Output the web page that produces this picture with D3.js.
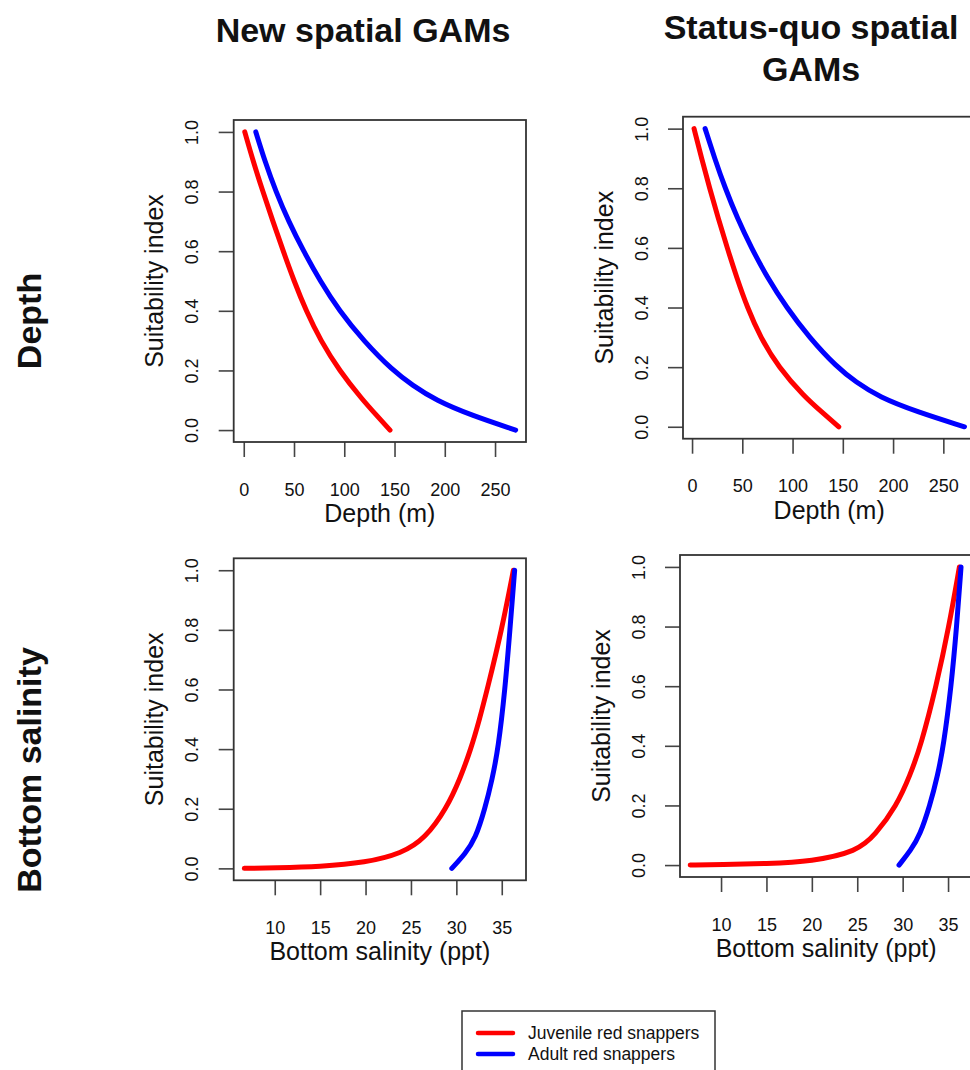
<!DOCTYPE html>
<html>
<head>
<meta charset="utf-8">
<script src="https://cdn.jsdelivr.net/npm/d3@7"></script>
<style>
  body { margin: 0; background: #fff; }
  svg { display: block; }
  text { font-family: "Liberation Sans", Arial, Helvetica, sans-serif; fill: #111; }
</style>
</head>
<body>
<svg id="chart" width="970" height="1070"></svg>
<script>
// ---- Labels ----
const columnTitles = [["New spatial GAMs"], ["Status-quo spatial", "GAMs"]];
const rowTitles = ["Depth", "Bottom salinity"];
const seriesNames = ["Juvenile red snappers", "Adult red snappers"];
const seriesColors = ["#ff0000", "#0000ff"];
const yTitle = "Suitability index";
const xTitles = ["Depth (m)", "Bottom salinity (ppt)"];

// ---- Tick values ----
const yTicks = [0, 0.2, 0.4, 0.6, 0.8, 1.0];
const depthTicks = [0, 50, 100, 150, 200, 250];
const salinityTicks = [10, 15, 20, 25, 30, 35];

// ---- Depth response curves (suitability index vs depth, m) ----
const juvDepthSI = [1.0, 0.9, 0.8, 0.7, 0.6, 0.5, 0.4, 0.3, 0.2, 0.1, 0.05, 0.0];
const juvDepthNew = [1, 9.5, 19, 29, 39.3, 50, 62, 76.5, 95, 118.5, 132, 145.5];
const juvDepthSQ = [2, 9.5, 17.5, 26, 35, 44.5, 55, 68, 86, 112, 129, 146];
const adultDepthSI = [1.0, 0.9, 0.8, 0.7, 0.6, 0.5, 0.4, 0.3, 0.2, 0.15, 0.1, 0.05, 0.0];
const adultDepthNew = [12, 21.2, 32, 44.6, 59.5, 76, 95, 119, 148, 168, 191, 226, 270.5];
const adultDepthSQ = [13, 22.5, 33, 45, 59, 75, 94, 116.5, 144, 163, 186, 224, 271];

// ---- Bottom salinity response curves (suitability index vs salinity, ppt) ----
const juvSalNew = [6.65, 10, 15, 20, 24, 26.55, 28.9, 30.4, 31.6, 32.55, 33.4, 35.0, 36.28];
const juvSalNewSI = [0, 0.002, 0.006, 0.019, 0.05, 0.1, 0.2, 0.3, 0.4, 0.5, 0.6, 0.8, 1.0];
const adultSalNew = [29.5, 31.0, 32.1, 33.15, 33.95, 34.6, 35.36, 35.9, 36.42];
const adultSalNewSI = [0, 0.05, 0.1, 0.2, 0.3, 0.4, 0.6, 0.8, 1.0];
const juvSalSQ = [6.6, 10, 15, 20, 25, 26.96, 29.35, 30.8, 32.0, 33.7, 35.1, 36.25];
const juvSalSQSI = [0, 0.002, 0.005, 0.012, 0.046, 0.1, 0.2, 0.3, 0.4, 0.6, 0.8, 1.0];
const adultSalSQ = [29.6, 30.9, 31.9, 33.0, 33.85, 34.5, 35.35, 35.95, 36.43];
const adultSalSQSI = [0, 0.05, 0.1, 0.2, 0.3, 0.4, 0.6, 0.8, 1.0];

const zip = (xs, ys) => xs.map((x, i) => ({ x, y: ys[i] }));

// ---- Panel layout ----
const boxW = 292.3, boxH = 322;
const depthDomain = [-10, 280.8];
const salDomain = [5.48, 37.67];
const panels = [
  { left: 233.7, top: 120,   xDomain: depthDomain, xTicks: depthTicks, xTitle: xTitles[0],
    series: [zip(juvDepthNew, juvDepthSI), zip(adultDepthNew, adultDepthSI)] },
  { left: 683,   top: 116.7, xDomain: [-9, 281.8], xTicks: depthTicks, xTitle: xTitles[0],
    series: [zip(juvDepthSQ, juvDepthSI), zip(adultDepthSQ, adultDepthSI)] },
  { left: 233.7, top: 558.3, xDomain: salDomain, xTicks: salinityTicks, xTitle: xTitles[1],
    series: [zip(juvSalNew, juvSalNewSI), zip(adultSalNew, adultSalNewSI)] },
  { left: 680,   top: 555,   xDomain: salDomain, xTicks: salinityTicks, xTitle: xTitles[1],
    series: [zip(juvSalSQ, juvSalSQSI), zip(adultSalSQ, adultSalSQSI)] }
];

const svg = d3.select("#chart");
svg.append("rect").attr("width", 970).attr("height", 1070).attr("fill", "#fff");

// Column headings
const colCenters = [363, 811];
columnTitles.forEach((lines, c) => {
  const t = svg.append("text")
    .attr("x", colCenters[c]).attr("text-anchor", "middle")
    .style("font-size", "34px").style("font-weight", "bold");
  lines.forEach((ln, i) => {
    t.append("tspan").attr("x", colCenters[c])
      .attr("y", (lines.length > 1 ? 38.5 : 41.7) + i * 42.5).text(ln);
  });
});

// Row headings
const rowCenters = [321, 770];
rowTitles.forEach((r, i) => {
  svg.append("text")
    .attr("transform", `translate(41,${rowCenters[i]}) rotate(-90)`)
    .attr("text-anchor", "middle")
    .style("font-size", "34px").style("font-weight", "bold")
    .text(r);
});

// Panels
panels.forEach(p => {
  const x = d3.scaleLinear().domain(p.xDomain).range([p.left, p.left + boxW]);
  const y = d3.scaleLinear().domain([-0.04, 1.04]).range([p.top + boxH, p.top]);
  const g = svg.append("g");

  // x axis
  const xa = g.append("g").attr("transform", `translate(0,${p.top + boxH})`)
    .call(d3.axisBottom(x).tickValues(p.xTicks).tickSize(15).tickPadding(26).tickFormat(d3.format("d")));
  xa.select(".domain").remove();
  xa.selectAll(".tick line").attr("stroke", "#444").attr("stroke-width", 1.6);
  xa.selectAll(".tick text").style("font-size", "18px").attr("fill", "#111");

  // y axis with rotated labels
  const ya = g.append("g").attr("transform", `translate(${p.left},0)`)
    .call(d3.axisLeft(y).tickValues(yTicks).tickSize(15).tickFormat(d3.format(".1f")));
  ya.select(".domain").remove();
  ya.selectAll(".tick line").attr("stroke", "#444").attr("stroke-width", 1.6);
  ya.selectAll(".tick text")
    .attr("x", null).attr("dy", null)
    .attr("text-anchor", "middle")
    .attr("transform", "translate(-35.5,0) rotate(-90)")
    .style("font-size", "18px").attr("fill", "#111");

  // smooth response curves
  const line = d3.line().x(d => x(d.x)).y(d => y(d.y)).curve(d3.curveBasis);
  p.series.forEach((s, i) => {
    g.append("path").datum(s).attr("d", line)
      .attr("fill", "none").attr("stroke", seriesColors[i])
      .attr("stroke-width", 5).attr("stroke-linecap", "round").attr("stroke-linejoin", "round");
  });

  // frame
  g.append("rect").attr("x", p.left).attr("y", p.top).attr("width", boxW).attr("height", boxH)
    .attr("fill", "none").attr("stroke", "#333").attr("stroke-width", 1.8);

  // axis titles
  g.append("text").attr("x", p.left + boxW / 2).attr("y", p.top + boxH + 80)
    .attr("text-anchor", "middle").style("font-size", "25px").text(p.xTitle);
  g.append("text")
    .attr("transform", `translate(${p.left - 70.5},${p.top + boxH / 2}) rotate(-90)`)
    .attr("text-anchor", "middle").style("font-size", "25px").text(yTitle);
});

// Legend
const lg = svg.append("g");
lg.append("rect").attr("x", 462).attr("y", 1011).attr("width", 253).attr("height", 80)
  .attr("fill", "#fff").attr("stroke", "#333").attr("stroke-width", 1.5);
seriesNames.forEach((n, i) => {
  const yy = 1033 + i * 21;
  lg.append("line").attr("x1", 478).attr("x2", 513).attr("y1", yy).attr("y2", yy)
    .attr("stroke", seriesColors[i]).attr("stroke-width", 4.5).attr("stroke-linecap", "round");
  lg.append("text").attr("x", 528).attr("y", yy + 6).style("font-size", "17.5px").text(n);
});
</script>
</body>
</html>
